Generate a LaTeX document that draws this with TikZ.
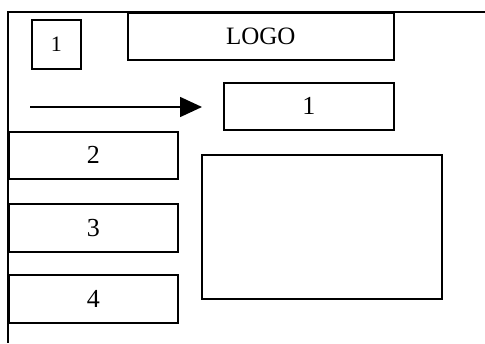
\documentclass[tikz,border=0pt]{standalone}
\usepackage{fontspec}
\setmainfont{Liberation Serif}
\usetikzlibrary{arrows.meta}
\begin{document}
\begin{tikzpicture}[x=1pt,y=-1pt,
  box/.style={draw=black, line width=1.6pt, anchor=north west, inner sep=0pt, font=\fontsize{26}{28}\selectfont},
  frameline/.style={draw=black, line width=1.6pt},
  arrowline/.style={draw=black, line width=1.6pt, -{Triangle[length=22pt,width=20pt]}}]
\useasboundingbox (0,0) rectangle (485,343);
% frame
\coordinate (ftl) at (8,12);
\coordinate (ftr) at (485,12);
\coordinate (fbl) at (8,343);
\draw[frameline] (ftr) -- (ftl) -- (fbl);
% boxes
\node[box, minimum width=49pt, minimum height=49pt, font=\fontsize{22}{24}\selectfont] (small) at (31,19) {1};
\node[box, minimum width=266pt, minimum height=47pt, font=\fontsize{25}{27}\selectfont] (logo) at (127,12) {LOGO};
\node[box, minimum width=170pt, minimum height=47pt] (one) at (223,82) {1};
\node[box, minimum width=169pt, minimum height=47pt] (two) at (8,131) {2};
\node[box, minimum width=169pt, minimum height=48pt] (three) at (8,203) {3};
\node[box, minimum width=169pt, minimum height=48pt] (four) at (8,274) {4};
\node[box, minimum width=240pt, minimum height=144pt] (big) at (201,154) {};
% arrow
\coordinate (as) at (30,107);
\coordinate (ae) at (202,107);
\draw[arrowline] (as) -- (ae);
\end{tikzpicture}
\end{document}
